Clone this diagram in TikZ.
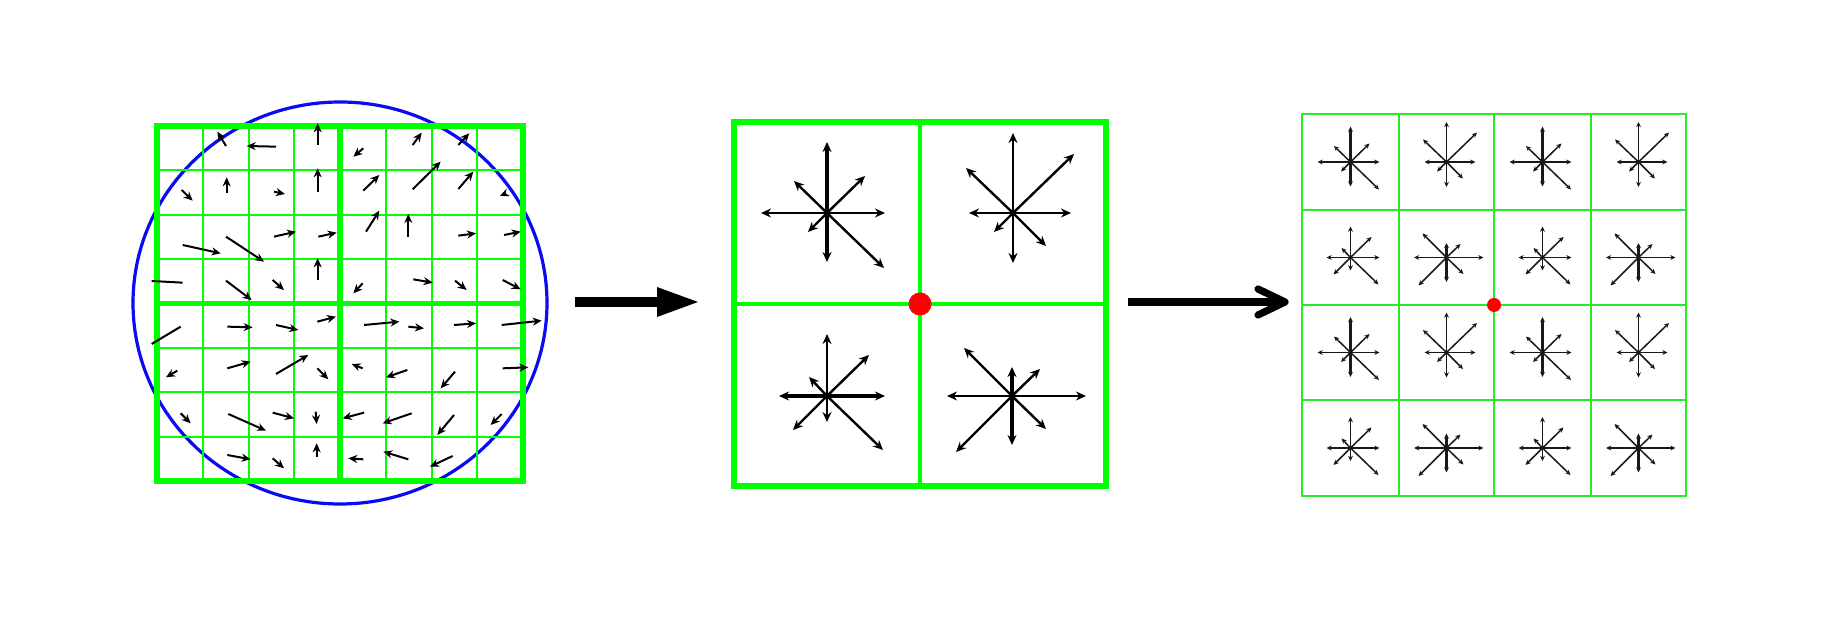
\documentclass[tikz,border=0pt]{standalone}
\usetikzlibrary{arrows.meta}
\definecolor{gr}{RGB}{0,255,0}
\definecolor{gr2}{RGB}{40,235,40}
\definecolor{bl}{RGB}{10,10,245}
\definecolor{rd}{RGB}{255,0,0}
\tikzset{
  larr/.style={line width=1pt,-{Stealth[length=4.5pt,width=4pt]}},
  lline/.style={line width=1pt},
  marr/.style={-{Stealth[length=5pt,width=4.5pt]}},
  rarr/.style={black!90,-{Stealth[length=2.6pt,width=2.4pt]}},
}
% dx/dy/relative width
\def\patTL{0/-71/1.4, 0/49/1.4, -66/0/1.2, 58/0/1.2, 38/-37/1, -33/-32/1, -19/19/1, 57/55/1}
\def\patTR{0/-80/1.1, 0/50/1.1, -44/0/1.1, 58/0/1.1, 61/-59/1, -47/-45/1, -19/19/1, 33/33/1}
\def\patBL{0/-62/1.1, 0/26/1.1, -48/0/1.3, 58/0/1.3, 42/-41/1, -18/-19/1, -34/34/1, 56/54/1}
\def\patBR{0/-29/1.4, 0/49/1.4, -65/0/1.1, 74/0/1.1, 28/-27/1, -48/-48/1, -56/56/1, 34/33/1}
\begin{document}
\begin{tikzpicture}[x=0.5pt,y=-0.5pt]
\useasboundingbox[fill=white] (0,0) rectangle (1844,635);
% ---------- left panel ----------
\draw[bl,line width=1.6pt] (340,303) ellipse [x radius=207, y radius=201];
\foreach \i in {1,2,3,5,6,7}{
  \draw[gr,line width=1pt] ({157+\i*45.75},126) -- ({157+\i*45.75},481);
  \draw[gr,line width=1pt] (157,{126+\i*44.375}) -- (523,{126+\i*44.375});
}
\draw[gr,line width=2.6pt] (340,126) -- (340,481);
\draw[gr,line width=2.6pt] (157,303.5) -- (523,303.5);
\draw[gr,line width=2.6pt] (157,126) rectangle (523,481);
\foreach \a/\b/\c/\d in {
 318/168/292/125, 468/170/380/168, 593/165/593/100, 730/175/700/200, 878/165/905/128, 1015/165/1048/130,
 185/300/218/332, 320/310/320/262, 462/305/495/312, 593/305/593/235, 730/302/778/255, 878/298/962/215, 1015/297/1060/245, 1158/310/1140/318,
 188/465/302/490, 318/440/432/515, 462/440/528/425, 595/440/650/428, 738/425/778/362, 865/440/865/372, 1015/437/1068/430, 1152/435/1202/425,
 318/572/395/630, 458/570/492/600, 593/570/593/505, 728/580/700/610, 880/568/938/578, 1005/572/1040/600, 1148/570/1202/598,
 322/710/398/712, 468/705/535/720, 592/695/648/680, 732/705/838/695, 865/710/912/715, 1002/705/1068/700, 1145/705/1265/692,
 172/842/138/862, 322/835/392/815, 468/852/565/795, 592/835/625/868, 728/835/695/822, 862/840/798/862, 1005/845/962/895, 1148/835/1225/832,
 182/970/212/1000, 325/972/438/1022, 458/968/522/985, 587/965/590/1002, 732/968/668/985, 875/970/788/1000, 1002/975/952/1035, 1145/972/1112/1005,
 322/1095/392/1108, 458/1105/492/1135, 590/1100/590/1060, 730/1108/685/1105, 865/1108/790/1085, 998/1098/930/1130}
 {\draw[larr] ({120+\a/3},{90+\b/3}) -- ({120+\c/3},{90+\d/3});}
\foreach \a/\b/\c/\d in {188/578/95/573, 182/710/95/762}
 {\draw[lline] ({120+\a/3},{90+\b/3}) -- ({120+\c/3},{90+\d/3});}
% ---------- arrow 1 ----------
\coordinate (a1s) at (575,302);
\coordinate (a1e) at (660,302);
\coordinate (a1t) at (698,302);
\draw[line width=4.6pt] (a1s) -- (a1e);
\fill (657,287) -- (a1t) -- (657,317) -- cycle;
% ---------- middle panel ----------
\draw[gr,line width=2.4pt] (920,122) -- (920,486);
\draw[gr,line width=2.4pt] (734,304) -- (1106,304);
\draw[gr,line width=2.8pt] (734,122) rectangle (1106,486);
\foreach \cx/\cy/\p in {827/213/TL, 1013/213/TR, 827/396/BL, 1012/396/BR}{
  \expandafter\let\expandafter\curpat\csname pat\p\endcsname
  \begin{scope}[shift={(\cx,\cy)}]
    \foreach \dx/\dy/\w in \curpat {\draw[marr,line width=\w*1.2pt] (0,0) -- (\dx,\dy);}
  \end{scope}
}
\fill[rd] (920,304) circle [radius=11.5];
% ---------- arrow 2 ----------
\coordinate (a2s) at (1128,302);
\coordinate (a2t) at (1285,302);
\draw[line width=3.6pt] (a2s) -- (1282,302);
\draw[line width=3.6pt,line cap=round,line join=round] (1258,289) -- (a2t) -- (1258,315);
% ---------- right panel ----------
\foreach \x in {1399,1494,1591}{\draw[gr2,line width=1.3pt] (\x,114) -- (\x,496);}
\foreach \y in {210,305,400}{\draw[gr2,line width=1.3pt] (1302,\y) -- (1686,\y);}
\draw[gr2,line width=1.3pt] (1302,114) rectangle (1686,496);
\foreach \cx/\cy/\p in {1350.5/162/TL, 1446.5/162/TR, 1542.5/162/TL, 1638.5/162/TR,
  1350.5/257.5/BL, 1446.5/257.5/BR, 1542.5/257.5/BL, 1638.5/257.5/BR,
  1350.5/352.5/TL, 1446.5/352.5/TR, 1542.5/352.5/TL, 1638.5/352.5/TR,
  1350.5/448/BL, 1446.5/448/BR, 1542.5/448/BL, 1638.5/448/BR}{
  \expandafter\let\expandafter\curpat\csname pat\p\endcsname
  \begin{scope}[shift={(\cx,\cy)},scale=0.5]
    \foreach \dx/\dy/\w in \curpat {\draw[rarr,line width=\w*0.75pt] (0,0) -- (\dx,\dy);}
  \end{scope}
}
\fill[rd] (1494,305) circle [radius=7];
\end{tikzpicture}
\end{document}
